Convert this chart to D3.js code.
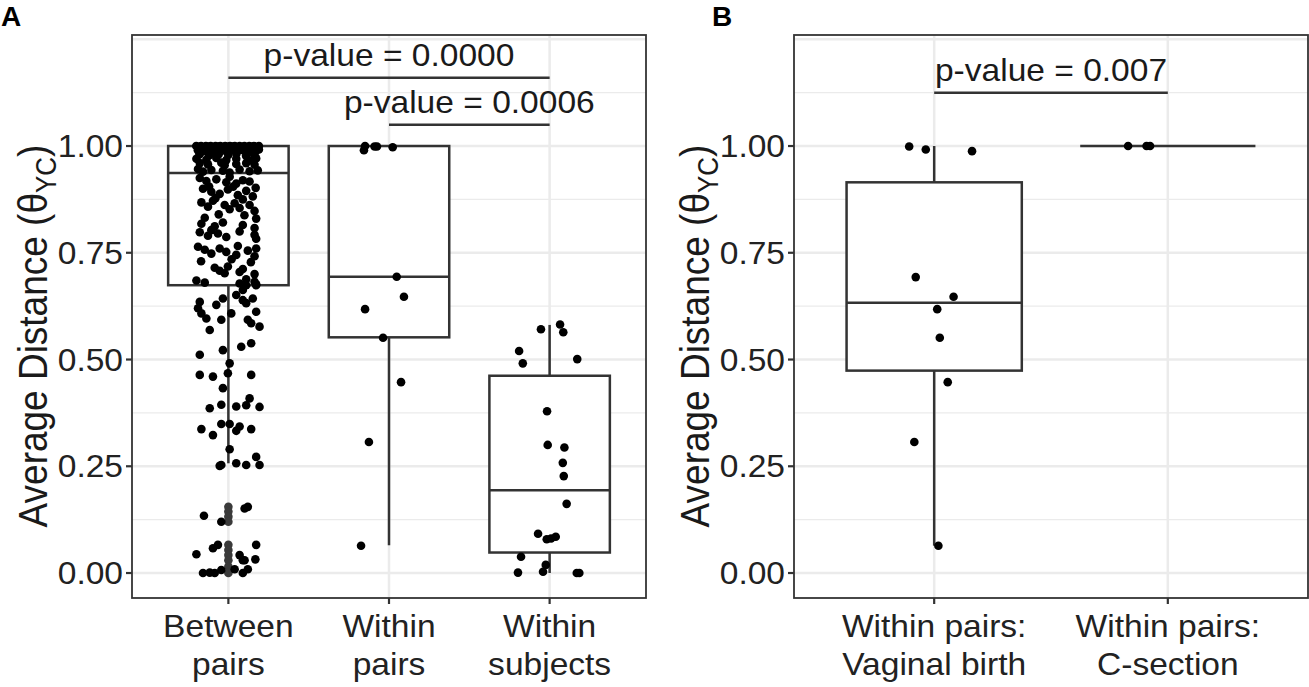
<!DOCTYPE html>
<html><head><meta charset="utf-8">
<script src="https://cdn.jsdelivr.net/npm/d3@7"></script>
<style>body{margin:0;background:#fff;} text{font-family:"Liberation Sans",Arial,Helvetica,sans-serif;}</style>
</head><body><svg id="c" width="1309" height="687"></svg>
<script>
// ---------------- DATA ----------------
const categoriesA = [["Between","pairs"],["Within","pairs"],["Within","subjects"]];
const categoriesB = [["Within pairs:","Vaginal birth"],["Within pairs:","C-section"]];
const yTicks = [0, 0.25, 0.5, 0.75, 1.0];
const yTickLabels = ["0.00","0.25","0.50","0.75","1.00"];
const yMajorGrid = [0, 0.25, 0.5, 0.75, 1.0, 1.25];
const yMinorGrid = [0.125, 0.375, 0.625, 0.875, 1.125];
// box stats: [lower whisker, q1, median, q3, upper whisker]
const boxStatsA = [[0.257,0.674,0.937,1.0,1.0],[0.065,0.552,0.694,1.0,1.0],[0.0,0.048,0.194,0.462,0.581]];
const boxStatsB = [[0.064,0.474,0.633,0.915,1.0],[1.0,1.0,1.0,1.0,1.0]];
const outliersBetween = [0.155,0.144,0.132,0.120,0.066,0.054,0.042,0.030,0.015,0.0];
// jittered points: [jitter offset (category units), value]
const betweenPairs = [
[-0.20,1.0],[-0.18,0.998],[-0.17,1.0],[-0.15,0.996],[-0.14,1.0],[-0.12,0.999],[-0.11,1.0],[-0.09,0.997],[-0.08,1.0],[-0.06,0.999],[-0.05,1.0],[-0.03,0.996],[-0.02,1.0],[0.0,0.998],[0.01,1.0],[0.03,0.999],[0.04,1.0],[0.06,0.997],[0.07,1.0],[0.09,0.998],[0.10,1.0],[0.12,0.996],[0.13,1.0],[0.15,0.999],[0.16,1.0],[0.18,0.997],[0.19,1.0],
[-0.19,0.990],[-0.16,0.987],[-0.13,0.991],[-0.10,0.985],[-0.07,0.989],[-0.04,0.992],[-0.01,0.986],[0.02,0.990],[0.05,0.988],[0.08,0.991],[0.11,0.986],[0.14,0.990],[0.17,0.987],[0.19,0.992],
[-0.18,0.980],[-0.12,0.978],[-0.06,0.981],[0.00,0.979],[0.05,0.982],[0.11,0.977],[0.16,0.980],
[-0.199,0.970],[-0.137,0.968],[-0.075,0.972],[-0.013,0.967],[0.049,0.970],[0.132,0.966],[0.173,0.971],
[-0.178,0.960],[-0.127,0.957],[-0.044,0.961],[-0.023,0.955],[0.049,0.958],[0.111,0.960],[0.163,0.956],
[-0.189,0.946],[-0.158,0.940],[-0.106,0.944],[-0.034,0.942],[0.008,0.938],[0.070,0.945],[0.132,0.941],[0.183,0.943],
[-0.178,0.925],[-0.137,0.918],[-0.075,0.922],[-0.013,0.915],[0.008,0.928],[0.049,0.912],[0.090,0.920],[0.132,0.917],
[-0.158,0.900],[-0.106,0.893],[-0.054,0.888],[-0.003,0.898],[0.059,0.885],[0.111,0.895],[0.152,0.882],
[-0.120,0.905],[0.030,0.905],[0.170,0.902],[-0.080,0.878],[0.090,0.875],
[-0.168,0.868],[-0.127,0.858],[-0.096,0.872],[-0.023,0.862],[0.008,0.852],[0.039,0.866],[0.070,0.855],[0.132,0.862],[0.163,0.848],
[-0.147,0.832],[0.173,0.830],[-0.060,0.840],[0.100,0.838],
[-0.168,0.818],[-0.085,0.812],[-0.034,0.821],[0.090,0.815],[0.163,0.808],
[-0.178,0.798],[-0.127,0.790],[-0.106,0.803],[-0.065,0.795],[-0.013,0.787],[0.070,0.800],[0.163,0.792],[0.173,0.783],
[-0.189,0.764],[-0.147,0.757],[-0.106,0.748],[-0.054,0.760],[-0.013,0.752],[0.049,0.745],[0.059,0.766],[0.121,0.755],[0.163,0.742],[0.173,0.760],
[-0.170,0.730],[0.020,0.735],[0.140,0.728],
[-0.085,0.715],[-0.054,0.708],[-0.023,0.702],[-0.003,0.718],[0.070,0.705],[0.090,0.712],[0.163,0.700],
[-0.199,0.685],[-0.147,0.680],[0.070,0.678],[0.111,0.688],[0.163,0.682],[0.173,0.676],
[-0.178,0.635],[-0.189,0.620],[-0.168,0.608],[-0.137,0.596],[-0.116,0.569],[-0.075,0.628],[-0.034,0.643],[-0.044,0.593],[0.018,0.608],[0.049,0.651],[0.090,0.663],[0.111,0.674],[0.173,0.674],[0.090,0.639],[0.111,0.632],[0.152,0.643],[0.173,0.612],[0.121,0.593],[0.142,0.585],[0.194,0.577],
[0.080,0.530],[0.142,0.538],[-0.034,0.522],[-0.178,0.511],[0.008,0.491],[-0.178,0.464],[-0.096,0.460],[-0.003,0.468],[0.142,0.464],[-0.034,0.433],[0.132,0.409],[0.111,0.393],[0.194,0.389],[0.049,0.390],[-0.044,0.394],[-0.116,0.386],
[-0.168,0.337],[-0.044,0.349],[0.008,0.349],[0.070,0.343],[0.049,0.333],[0.142,0.337],[-0.096,0.323],
[0.008,0.290],[-0.044,0.253],[-0.054,0.251],[0.049,0.257],[0.111,0.253],[0.173,0.272],[0.194,0.253],
[-0.152,0.134],[-0.044,0.120],[0.101,0.151],[0.121,0.155],
[-0.199,0.044],[-0.096,0.058],[-0.065,0.066],[0.070,0.042],[0.090,0.030],[0.101,0.030],[0.173,0.066],[0.168,0.032],
[-0.158,0.0],[-0.116,0.001],[-0.085,0.0],[-0.044,0.007],[0.039,0.009],[0.090,0.0],[0.121,0.009]
];
const withinPairs = [[-0.149,1.0],[-0.156,0.99],[-0.09,0.999],[-0.075,0.999],[0.023,0.997],[0.048,0.694],[0.093,0.647],[-0.149,0.618],[-0.037,0.551],[0.075,0.447],[-0.125,0.307],[-0.174,0.064]];
const withinSubjects = [[-0.054,0.571],[0.065,0.582],[0.085,0.564],[-0.19,0.520],[-0.167,0.491],[0.172,0.501],[-0.016,0.379],[-0.012,0.300],[0.092,0.294],[0.082,0.258],[0.088,0.227],[0.106,0.162],[-0.072,0.092],[-0.018,0.079],[0.009,0.081],[0.038,0.085],[-0.178,0.038],[-0.024,0.019],[-0.041,0.003],[-0.197,0.001],[0.169,0.0],[0.185,0.0]];
const vaginalBirth = [[-0.107,0.999],[-0.036,0.992],[0.162,0.988],[-0.079,0.693],[0.083,0.647],[0.013,0.618],[0.024,0.551],[0.058,0.447],[-0.085,0.307],[0.018,0.064]];
const cSection = [[-0.17,1.0],[-0.091,1.0],[-0.076,1.0]];
const pLabelsA = ["p-value = 0.0000","p-value = 0.0006"];
const pPairsA = [[1,3],[2,3]];
const pHeightsA = [1.16, 1.05];
const pLabelsB = ["p-value = 0.007"];
const pPairsB = [[1,2]];
const pHeightsB = [1.125];
const panelLetters = ["A","B"];
const yTitleMain = "Average Distance (θ";
const yTitleSub = "YC";

// ---------------- DRAW ----------------
const svg = d3.select("#c");
const plotTop = 35, plotBottom = 598;
const dark = "#333333";
const gridCol = "#EBEBEB";
const yScale = d3.scaleLinear().domain([-0.0585, 1.26]).range([plotBottom, plotTop]);
const SX = 1.1; // horizontal stretch of text in the reference
const R = 4.3;

function stretchedText(parent, x, yy, str, opts) {
  const g = parent.append("g").attr("transform", `translate(${x},${yy}) scale(${SX},1)`);
  const t = g.append("text").attr("x", 0).attr("y", 0)
    .attr("font-size", opts.size).attr("fill", opts.fill || "#1a1a1a")
    .attr("text-anchor", opts.anchor || "middle");
  if (opts.dy) t.attr("dy", opts.dy);
  if (opts.weight) t.attr("font-weight", opts.weight);
  t.text(str);
  return t;
}

function panel(left, right, cats, boxStats, pointSets, outliers, pLabels, pPairs, pHeights, letter, letterX) {
  const n = cats.length;
  const y = yScale;
  const x = d3.scaleLinear().domain([0.4, n + 0.6]).range([left, right]);
  const g = svg.append("g");
  // grid
  g.selectAll(".ymin").data(yMinorGrid).enter().append("line")
    .attr("x1", left).attr("x2", right).attr("y1", d => y(d)).attr("y2", d => y(d))
    .attr("stroke", gridCol).attr("stroke-width", 1.3);
  g.selectAll(".ymaj").data(yMajorGrid).enter().append("line")
    .attr("x1", left).attr("x2", right).attr("y1", d => y(d)).attr("y2", d => y(d))
    .attr("stroke", gridCol).attr("stroke-width", 2.5);
  g.selectAll(".xmaj").data(d3.range(1, n + 1)).enter().append("line")
    .attr("x1", d => x(d)).attr("x2", d => x(d)).attr("y1", plotTop).attr("y2", plotBottom)
    .attr("stroke", gridCol).attr("stroke-width", 2.5);
  // boxes
  const bw = 0.75;
  const sw = 2.5;
  boxStats.forEach((s, i) => {
    const c = i + 1;
    const [lo, q1, med, q3, hi] = s;
    g.append("line").attr("x1", x(c)).attr("x2", x(c)).attr("y1", y(q3)).attr("y2", y(hi)).attr("stroke", dark).attr("stroke-width", sw);
    g.append("line").attr("x1", x(c)).attr("x2", x(c)).attr("y1", y(q1)).attr("y2", y(lo)).attr("stroke", dark).attr("stroke-width", sw);
    g.append("rect").attr("x", x(c - bw / 2)).attr("width", x(c + bw / 2) - x(c - bw / 2))
      .attr("y", y(q3)).attr("height", Math.max(0, y(q1) - y(q3)))
      .attr("fill", "#fff").attr("stroke", dark).attr("stroke-width", sw);
    g.append("line").attr("x1", x(c - bw / 2)).attr("x2", x(c + bw / 2)).attr("y1", y(med)).attr("y2", y(med))
      .attr("stroke", dark).attr("stroke-width", sw);
  });
  // outliers
  outliers.forEach((vals, i) => {
    g.selectAll(null).data(vals).enter().append("circle")
      .attr("cx", x(i + 1)).attr("cy", d => y(d)).attr("r", R).attr("fill", "#3a3a3a");
  });
  // jittered points
  pointSets.forEach((pts, i) => {
    g.selectAll(null).data(pts).enter().append("circle")
      .attr("cx", d => x(i + 1 + d[0])).attr("cy", d => y(d[1])).attr("r", R).attr("fill", "#000");
  });
  // p-value brackets
  pLabels.forEach((lab, i) => {
    const [a, b] = pPairs[i];
    const yy = y(pHeights[i]);
    g.append("line").attr("x1", x(a)).attr("x2", x(b)).attr("y1", yy).attr("y2", yy).attr("stroke", dark).attr("stroke-width", sw);
    stretchedText(g, (x(a) + x(b)) / 2, yy - 12, lab, {size: 30.5, fill: "#1a1a1a"});
  });
  // border
  g.append("rect").attr("x", left).attr("y", plotTop).attr("width", right - left).attr("height", plotBottom - plotTop)
    .attr("fill", "none").attr("stroke", dark).attr("stroke-width", 1.8);
  // y ticks
  yTicks.forEach((v, i) => {
    g.append("line").attr("x1", left - 6).attr("x2", left).attr("y1", y(v)).attr("y2", y(v)).attr("stroke", dark).attr("stroke-width", 2.2);
    stretchedText(g, left - 9, y(v), yTickLabels[i], {size: 30.5, anchor: "end", dy: "0.36em", fill: "#222"});
  });
  // x ticks + labels
  cats.forEach((lines, i) => {
    const cx = x(i + 1);
    g.append("line").attr("x1", cx).attr("x2", cx).attr("y1", plotBottom).attr("y2", plotBottom + 6).attr("stroke", dark).attr("stroke-width", 2.2);
    stretchedText(g, cx, 636.5, lines[0], {size: 30.5, fill: "#222"});
    stretchedText(g, cx, 675, lines[1], {size: 30.5, fill: "#222"});
  });
  // y title
  const tg = g.append("g").attr("transform", `translate(${left - 85},336) scale(${SX},1) rotate(-90)`);
  const tt = tg.append("text").attr("text-anchor", "middle").attr("font-size", 37).attr("fill", "#1a1a1a");
  tt.append("tspan").text(yTitleMain);
  tt.append("tspan").attr("font-size", 26).attr("dy", 8).text(yTitleSub);
  tt.append("tspan").attr("dy", -8).text(")");
  // panel letter
  svg.append("text").attr("x", letterX).attr("y", 26).attr("font-size", 28).attr("font-weight", "bold").attr("fill", "#000").text(letter);
}

panel(132, 646, categoriesA, boxStatsA, [betweenPairs, withinPairs, withinSubjects], [outliersBetween, [], []],
  pLabelsA, pPairsA, pHeightsA, panelLetters[0], 1);
panel(794, 1308, categoriesB, boxStatsB, [vaginalBirth, cSection], [[], []],
  pLabelsB, pPairsB, pHeightsB, panelLetters[1], 712);
</script></body></html>
